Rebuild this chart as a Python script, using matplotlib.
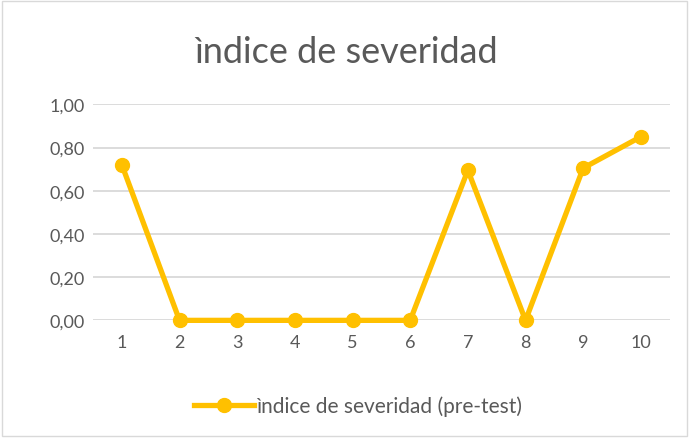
import matplotlib.pyplot as plt
import numpy as np

# Data
categories = ['1', '2', '3', '4', '5', '6', '7', '8', '9', '10']
severity = [0.72, 0.00, 0.00, 0.00, 0.00, 0.00, 0.695, 0.00, 0.705, 0.85]
y_ticks = [0.0, 0.2, 0.4, 0.6, 0.8, 1.0]
y_tick_labels = ['0,00', '0,20', '0,40', '0,60', '0,80', '1,00']

plt.rcParams['font.family'] = ['Lato', 'DejaVu Sans']

fig = plt.figure(figsize=(6.89, 4.39), dpi=100)
ax = fig.add_axes([0.135, 0.268, 0.837, 0.492])

x = np.arange(1, len(categories) + 1)
ax.plot(x, severity, color='#FFC000', linewidth=3.8, marker='o',
        markersize=10, label='ìndice de severidad (pre-test)', zorder=3,
        solid_joinstyle='round', clip_on=False)

# Axes
ax.set_xlim(0.5, len(categories) + 0.5)
ax.set_ylim(0, 1.0)
ax.set_xticks(x)
ax.set_xticklabels(categories)
ax.set_yticks(y_ticks)
ax.set_yticklabels(y_tick_labels)
ax.tick_params(axis='both', length=0, labelsize=13, colors='#595959')
ax.tick_params(axis='x', pad=10)
ax.tick_params(axis='y', pad=6)
ax.grid(axis='y', color='#D9D9D9', linewidth=1.3)
ax.set_axisbelow(True)
for s in ax.spines.values():
    s.set_visible(False)

fig.text(0.503, 0.88, 'ìndice de severidad', ha='center', va='center',
         fontsize=26, color='#595959')

fig.legend(loc='center', bbox_to_anchor=(0.52, 0.073), frameon=False,
           fontsize=15, labelcolor='#595959', handlelength=2.9,
           handletextpad=0.1)

# Chart border
fig.patches.append(plt.Rectangle((0.003, 0.005), 0.994, 0.99,
                                 transform=fig.transFigure, fill=False,
                                 edgecolor='#D9D9D9', linewidth=1))

fig.savefig('out.png', dpi=100)
